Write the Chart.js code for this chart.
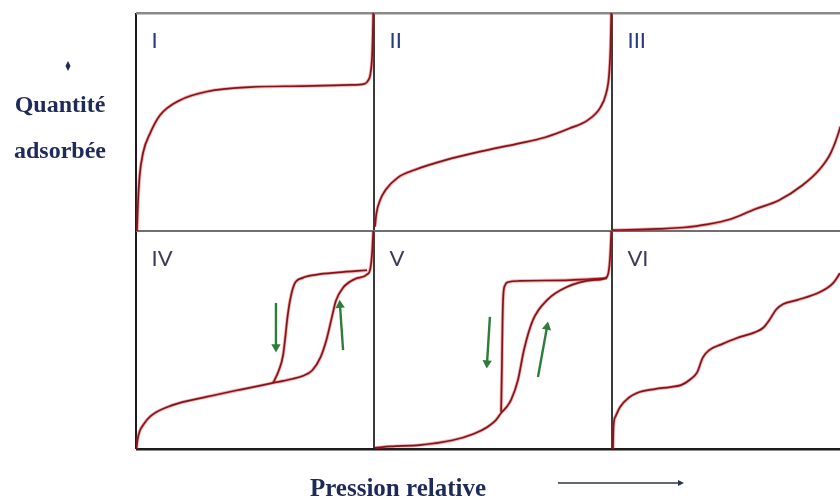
<!DOCTYPE html>
<html>
<head>
<meta charset="utf-8">
<script src="https://cdn.jsdelivr.net/npm/chart.js@4.4.1/dist/chart.umd.min.js"></script>
<style>
  html, body { margin: 0; padding: 0; background: #fff; }
</style>
</head>
<body>
<canvas id="canvas" width="840" height="501"></canvas>
<script>
// relative pressure (p) and adsorbed quantity (q), each in 0..1 inside its own panel
let p1 = [0.004, 0.008, 0.015, 0.03, 0.06, 0.1, 0.185, 0.3, 0.48, 0.7, 0.9, 0.96, 0.975, 0.985, 0.992, 0.995, 0.997];
let q1 = [0.0, 0.12, 0.25, 0.36, 0.45, 0.53, 0.6, 0.64, 0.66, 0.665, 0.67, 0.675, 0.69, 0.72, 0.8, 0.9, 1.0];

let p2 = [0.004, 0.01, 0.025, 0.05, 0.1, 0.17, 0.3, 0.45, 0.6, 0.72, 0.82, 0.9, 0.95, 0.975, 0.988, 0.994, 0.997];
let q2 = [0.02, 0.08, 0.14, 0.19, 0.245, 0.28, 0.325, 0.365, 0.4, 0.43, 0.47, 0.51, 0.565, 0.63, 0.72, 0.85, 1.0];

let p3 = [0.0, 0.1, 0.2, 0.3, 0.4, 0.5, 0.6, 0.7, 0.8, 0.87, 0.92, 0.96, 0.99, 1.0];
let q3 = [0.004, 0.006, 0.01, 0.016, 0.03, 0.055, 0.1, 0.14, 0.21, 0.28, 0.36, 0.48, 0.62, 0.7];

let p4a = [0.002, 0.006, 0.015, 0.03, 0.06, 0.15, 0.3, 0.45, 0.576, 0.65, 0.7, 0.74, 0.775, 0.8, 0.82, 0.84, 0.87, 0.92, 0.97, 0.985, 0.992, 0.997];
let q4a = [0.0, 0.04, 0.08, 0.11, 0.15, 0.2, 0.24, 0.275, 0.303, 0.32, 0.335, 0.36, 0.42, 0.5, 0.59, 0.68, 0.74, 0.78, 0.8, 0.83, 0.9, 1.0];
let p4d = [0.576, 0.6, 0.618, 0.628, 0.636, 0.647, 0.665, 0.7, 0.76, 0.85, 0.971];
let q4d = [0.303, 0.36, 0.43, 0.52, 0.6, 0.68, 0.755, 0.785, 0.8, 0.81, 0.82];

let p5a = [0.004, 0.07, 0.19, 0.33, 0.42, 0.475, 0.51, 0.534, 0.555, 0.576, 0.605, 0.63, 0.668, 0.727, 0.81, 0.92, 0.975, 0.988, 0.994, 0.997];
let q5a = [0.005, 0.012, 0.018, 0.04, 0.07, 0.1, 0.13, 0.165, 0.19, 0.225, 0.317, 0.454, 0.592, 0.683, 0.743, 0.775, 0.785, 0.83, 0.92, 1.0];
let p5d = [0.534, 0.537, 0.54, 0.543, 0.55, 0.565, 0.613, 0.824, 0.979];
let q5d = [0.17, 0.35, 0.58, 0.7, 0.75, 0.766, 0.771, 0.775, 0.784];

let p6 = [0.004, 0.006, 0.015, 0.034, 0.07, 0.105, 0.18, 0.244, 0.29, 0.33, 0.357, 0.382, 0.41, 0.46, 0.525, 0.6, 0.634, 0.66, 0.69, 0.72, 0.777, 0.874, 0.929, 0.958, 0.99];
let q6 = [0.0, 0.1, 0.15, 0.193, 0.235, 0.257, 0.275, 0.284, 0.293, 0.32, 0.35, 0.42, 0.455, 0.48, 0.509, 0.535, 0.555, 0.59, 0.64, 0.665, 0.683, 0.72, 0.761, 0.807, 0.87];

let panelNames = ['I', 'II', 'III', 'IV', 'V', 'VI'];

// green hysteresis arrows (panel index, start, end)
let arrowPanel = [3, 3, 4, 4];
let arrowStartP = [0.588, 0.87, 0.487, 0.689];
let arrowStartQ = [0.67, 0.454, 0.606, 0.33];
let arrowEndP = [0.588, 0.857, 0.475, 0.727];
let arrowEndQ = [0.468, 0.66, 0.394, 0.56];

let panelCurves = [
    [[p1, q1]],
    [[p2, q2]],
    [[p3, q3]],
    [[p4a, q4a], [p4d, q4d]],
    [[p5a, q5a], [p5d, q5d]],
    [[p6, q6]]
];

let toChart = (panel, u, v) => ({ x: panel % 3 + u, y: (panel < 3 ? 1 : 0) + v });

let datasets = [];
panelCurves.forEach((curves, i) => {
    curves.forEach(([p, q]) => {
        let pts = p.map((u, k) => toChart(i, u, q[k]));
        // pinkish halo under the dark red trace
        datasets.push({ data: pts, showLine: true, borderColor: 'rgba(225,40,45,0.38)', borderWidth: 3.4,
            pointRadius: 0, cubicInterpolationMode: 'monotone' });
        datasets.push({ data: pts, showLine: true, borderColor: '#4a070b', borderWidth: 1.7,
            pointRadius: 0, cubicInterpolationMode: 'monotone' });
    });
});

arrowPanel.forEach((panel, i) => {
    datasets.push({
        data: [toChart(panel, arrowStartP[i], arrowStartQ[i]), toChart(panel, arrowEndP[i], arrowEndQ[i])],
        showLine: true,
        borderColor: '#2f7d3b',
        borderWidth: 2.4,
        pointStyle: 'triangle',
        pointRadius: [0, 3],
        pointBackgroundColor: '#2f7d3b',
        pointBorderColor: '#2f7d3b',
        pointRotation: (ctx) => {
            let d = ctx.dataset.data;
            let xs = ctx.chart.scales.x, ys = ctx.chart.scales.y;
            if (!xs || !ys) return 0;
            let dx = xs.getPixelForValue(d[1].x) - xs.getPixelForValue(d[0].x);
            let dy = ys.getPixelForValue(d[1].y) - ys.getPixelForValue(d[0].y);
            return Math.atan2(dx, -dy) * 180 / Math.PI;
        }
    });
});

let textPlugin = {
    id: 'texts',
    afterDraw(chart) {
        let c = chart.ctx;
        let xs = chart.scales.x, ys = chart.scales.y;
        c.save();
        c.font = '22px Lato';
        c.textAlign = 'left';
        c.textBaseline = 'middle';
        panelNames.forEach((name, i) => {
            let pos = toChart(i, 0.065, 0.87);
            c.fillStyle = i < 3 ? '#2a3a80' : '#3c3c58';
            c.fillText(name, xs.getPixelForValue(pos.x), ys.getPixelForValue(pos.y));
        });

        c.fillStyle = '#1e2a5a';
        c.textAlign = 'center';
        c.textBaseline = 'alphabetic';
        c.font = 'bold 24px "Liberation Serif"';
        c.fillText('Quantité', 60, 112);
        c.fillText('adsorbée', 60, 158);
        c.font = 'bold 25px "Liberation Serif"';
        c.fillText('Pression relative', 398, 496);

        // small arrow mark above the y label
        c.beginPath();
        c.moveTo(68, 61); c.lineTo(70.5, 66); c.lineTo(68, 71); c.lineTo(65.5, 66); c.closePath();
        c.fill();

        // arrow next to "Pression relative"
        c.strokeStyle = '#2a3450';
        c.lineWidth = 1.5;
        c.beginPath();
        c.moveTo(558, 483); c.lineTo(680, 483);
        c.stroke();
        c.fillStyle = '#2a3450';
        c.beginPath();
        c.moveTo(684, 483); c.lineTo(678, 480); c.lineTo(678, 486); c.closePath();
        c.fill();
        c.restore();
    }
};

let ctx = document.getElementById('canvas').getContext('2d');
let chart = new Chart(ctx, {
    type: 'scatter',
    data: { datasets: datasets },
    options: {
        responsive: false,
        animation: false,
        layout: { autoPadding: false, padding: { left: 136, top: 13, right: 0, bottom: 52 } },
        plugins: { legend: { display: false }, tooltip: { enabled: false } },
        scales: {
            x: {
                type: 'linear', min: 0, max: 2.958,
                afterBuildTicks: s => { s.ticks = [{ value: 0 }, { value: 1 }, { value: 2 }]; },
                afterFit: s => { s.height = 0; },
                ticks: { display: false },
                border: { display: false },
                grid: {
                    drawTicks: false,
                    color: c => c.tick && c.tick.value === 0 ? '#1c1c1c' : '#3a3a3a',
                    lineWidth: 2
                }
            },
            y: {
                type: 'linear', min: 0, max: 2,
                afterBuildTicks: s => { s.ticks = [{ value: 0 }, { value: 1 }, { value: 2 }]; },
                afterFit: s => { s.width = 0; },
                ticks: { display: false },
                border: { display: false },
                grid: {
                    drawTicks: false,
                    color: c => c.tick && c.tick.value === 0 ? '#1c1c1c' : (c.tick && c.tick.value === 1 ? '#707070' : '#8a8a8a'),
                    lineWidth: c => c.tick && c.tick.value === 1 ? 2 : 2.5
                }
            }
        }
    },
    plugins: [textPlugin]
});
</script>
</body>
</html>
